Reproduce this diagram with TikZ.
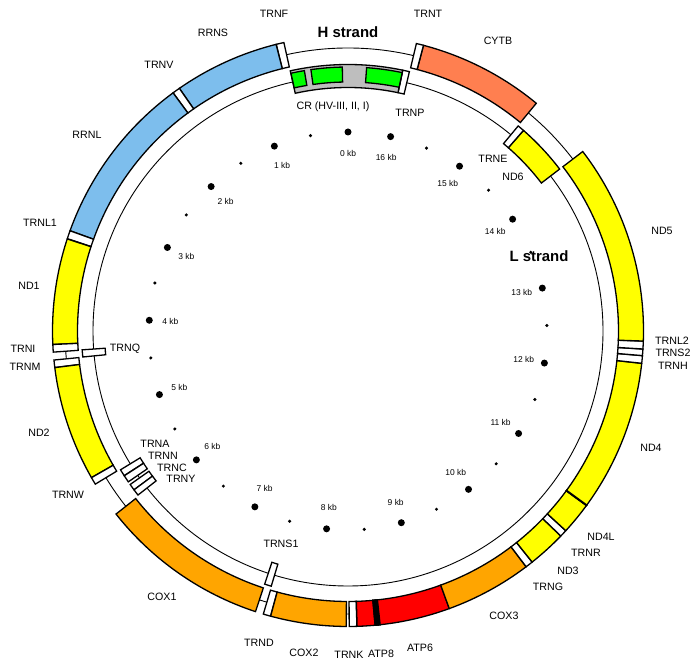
\documentclass[tikz,border=0pt]{standalone}
\usepackage{fontspec}
\setmainfont{Liberation Sans}
\usetikzlibrary{calc}

\definecolor{rnablue}{RGB}{125,190,237}
\definecolor{ndyellow}{RGB}{255,255,0}
\definecolor{coxorange}{RGB}{255,165,0}
\definecolor{atpred}{RGB}{255,0,0}
\definecolor{cytbcoral}{RGB}{255,127,80}
\definecolor{crgray}{RGB}{190,190,190}
\definecolor{hvgreen}{RGB}{0,255,0}

\tikzset{
  genebox/.style={draw=black, line width=1.3bp},
  thinring/.style={draw=black, line width=0.9bp},
  genelabel/.style={font=\fontsize{10.7}{12}\selectfont, inner sep=0pt},
  kblabel/.style={font=\fontsize{8.5}{10}\selectfont, inner sep=0pt},
  strandlabel/.style={font=\fontsize{15}{17}\selectfont\bfseries, inner sep=0pt}
}

% band on the ring: start bp, end bp, inner radius, outer radius, fill
\newcommand{\band}[5]{%
  \pgfmathsetmacro{\ga}{90+360*(#1/1000)/16.569}%
  \pgfmathsetmacro{\gb}{90+360*(#2/1000)/16.569}%
  \draw[genebox,fill=#5] (\ga:#3) arc (\ga:\gb:#3) -- (\gb:#4) arc (\gb:\ga:#4) -- cycle;}

\begin{document}
\begin{tikzpicture}[x=1bp,y=1bp]
  \useasboundingbox (0,0) rectangle (700,669);

  \begin{scope}[shift={(348,338)}]
    % Rings
    \draw[thinring] (0,0) circle[radius=283];
    \draw[thinring] (0,0) circle[radius=255];

    % H strand genes
    \foreach \s/\e/\c in {577/647/white, 648/1601/rnablue, 1602/1670/white,
      1671/3229/rnablue, 3230/3304/white, 3307/4262/ndyellow, 4263/4331/white,
      4402/4469/white, 4470/5511/ndyellow, 5512/5579/white, 5904/7445/coxorange,
      7518/7585/white, 7586/8269/coxorange, 8295/8364/white, 8366/8572/atpred,
      8527/9207/atpred, 9207/9990/coxorange, 9991/10058/white, 10059/10404/ndyellow,
      10405/10469/white, 10470/10766/ndyellow, 10760/12137/ndyellow, 12138/12206/white,
      12207/12265/white, 12266/12336/white, 12337/14148/ndyellow,
      14747/15887/cytbcoral, 15888/15953/white}
      {\band{\s}{\e}{270.5}{295.5}{\c}}
    % overlaps
    \band{8527}{8572}{270.5}{295.5}{black}
    \band{10760}{10766}{270.5}{295.5}{black}

    % L strand genes
    \foreach \s/\e/\c in {4329/4400/white, 5587/5655/white, 5657/5729/white,
      5761/5826/white, 5826/5891/white, 7446/7514/white, 14149/14673/ndyellow,
      14674/14742/white, 15956/16023/white, -545/576/crgray}
      {\band{\s}{\e}{243.5}{266.5}{\c}}
    % hypervariable regions
    \foreach \s/\e in {-545/-186, 57/372, 438/574}
      {\band{\s}{\e}{249}{264}{hvgreen}}

    % kb ticks
    \foreach \k in {0,...,16} {
      \pgfmathsetmacro{\ka}{90+360*\k/16.569}
      \fill (\ka:199) circle[radius=3.5];
      \node[kblabel] (kb\k) at (\ka:178) {\k\ kb};
    }
    \foreach \k in {0.5,1.5,...,15.5} {
      \pgfmathsetmacro{\ka}{90+360*\k/16.569}
      \fill (\ka:199) circle[radius=1.7];
    }
  \end{scope}

  % Strand labels
  \node[strandlabel] (hstrand) at (348,637) {H strand};
  \node[strandlabel] (lstrand) at (539,413) {L strand};

  % Gene labels
  \node[genelabel] (trnf) at (274,655) {TRNF};
  \node[genelabel] (rrns) at (213,636) {RRNS};
  \node[genelabel] (trnv) at (159,604) {TRNV};
  \node[genelabel] (rrnl) at (87,534) {RRNL};
  \node[genelabel] (trnl1) at (40,446) {TRNL1};
  \node[genelabel] (nd1) at (29,383) {ND1};
  \node[genelabel] (trni) at (23,320) {TRNI};
  \node[genelabel] (trnm) at (25,302) {TRNM};
  \node[genelabel] (trnq) at (125,320) {TRNQ};
  \node[genelabel] (nd2) at (39,236) {ND2};
  \node[genelabel] (trna) at (155,225) {TRNA};
  \node[genelabel] (trnn) at (163,213) {TRNN};
  \node[genelabel] (trnc) at (172,201) {TRNC};
  \node[genelabel] (trny) at (181,190) {TRNY};
  \node[genelabel] (trnw) at (68,174) {TRNW};
  \node[genelabel] (cox1) at (162,72) {COX1};
  \node[genelabel] (trns1) at (281,125) {TRNS1};
  \node[genelabel] (trnd) at (259,26) {TRND};
  \node[genelabel] (cox2) at (304,16) {COX2};
  \node[genelabel] (trnk) at (349,14) {TRNK};
  \node[genelabel] (atp8) at (381,15) {ATP8};
  \node[genelabel] (atp6) at (420,21) {ATP6};
  \node[genelabel] (cox3) at (504,53) {COX3};
  \node[genelabel] (trng) at (548,82) {TRNG};
  \node[genelabel] (nd3) at (568,98) {ND3};
  \node[genelabel] (trnr) at (586,116) {TRNR};
  \node[genelabel] (nd4l) at (601,132) {ND4L};
  \node[genelabel] (nd4) at (651,221) {ND4};
  \node[genelabel] (trnh) at (673,303) {TRNH};
  \node[genelabel] (trns2) at (673,316) {TRNS2};
  \node[genelabel] (trnl2) at (672,328) {TRNL2};
  \node[genelabel] (nd5) at (662,438) {ND5};
  \node[genelabel] (nd6) at (513,492) {ND6};
  \node[genelabel] (trne) at (493,510) {TRNE};
  \node[genelabel] (cytb) at (498,628) {CYTB};
  \node[genelabel] (trnt) at (428,655) {TRNT};
  \node[genelabel] (trnp) at (410,556) {TRNP};
  \node[genelabel] (cr) at (333,562) {CR (HV-III, II, I)};
\end{tikzpicture}
\end{document}
